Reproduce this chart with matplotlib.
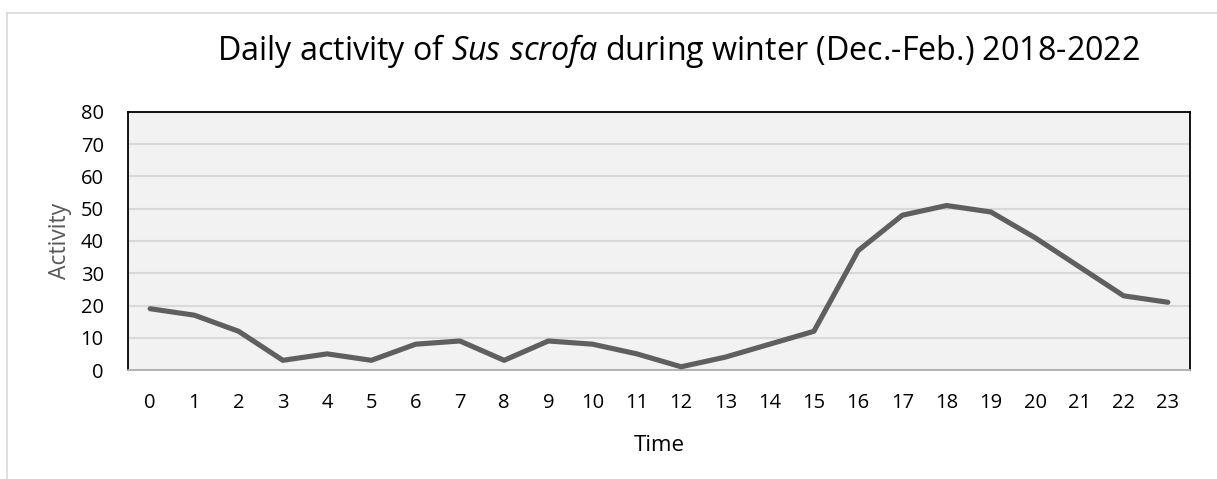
import matplotlib
matplotlib.use("Agg")
import matplotlib.pyplot as plt
from matplotlib.lines import Line2D

hours = list(range(24))
activity = [19, 17, 12, 3, 5, 3, 8, 9, 3, 9, 8, 5, 1, 4, 8, 12, 37, 48, 51, 49, 41, 32, 23, 21]
yticks = [0, 10, 20, 30, 40, 50, 60, 70, 80]

plt.rcParams['font.family'] = ['Open Sans', 'DejaVu Sans']
plt.rcParams['mathtext.fontset'] = 'custom'
plt.rcParams['mathtext.rm'] = 'Open Sans'
plt.rcParams['mathtext.it'] = 'Open Sans:italic'

W, H = 1217, 479
fig = plt.figure(figsize=(W / 100, H / 100), dpi=100)
fig.patch.set_facecolor('white')

# outer chart frame
fig.add_artist(Line2D([7 / W, 7 / W], [0, 1 - 13 / H], transform=fig.transFigure, color='#D9D9D9', lw=1.2))
fig.add_artist(Line2D([7 / W, 1], [1 - 13 / H, 1 - 13 / H], transform=fig.transFigure, color='#D9D9D9', lw=1.2))

ax = fig.add_axes([128 / W, (H - 370) / H, 1062 / W, 258 / H])
ax.set_facecolor('#F2F2F2')
ax.plot(hours, activity, color='#5F5F5F', lw=3.7, solid_joinstyle='round', solid_capstyle='round', zorder=3)

ax.set_xlim(-0.5, 23.5)
ax.set_ylim(0, 80)
ax.set_yticks(yticks)
ax.set_xticks(hours)
ax.set_xticklabels([str(h) for h in hours])
ax.yaxis.grid(True, color='#D9D9D9', lw=1.5)
ax.set_axisbelow(True)
ax.tick_params(axis='both', length=0, labelsize=14.5, colors='black')
ax.tick_params(axis='x', pad=16.5)
ax.tick_params(axis='y', pad=17.5)

for s in ['top', 'left', 'right']:
    ax.spines[s].set_color('black')
    ax.spines[s].set_linewidth(1.3)
ax.spines['bottom'].set_color('#AFAFAF')
ax.spines['bottom'].set_linewidth(1.3)

ax.set_xlabel('Time', fontsize=16, color='black', labelpad=16)
ax.set_ylabel('Activity', fontsize=16.5, color='#595959', labelpad=6)

fig.text(679 / W, 1 - 51 / H,
         r'Daily activity of $\mathit{Sus\ scrofa}$ during winter (Dec.-Feb.) 2018-2022',
         ha='center', va='center', fontsize=23.2, color='black')

fig.savefig('out.png', dpi=100)
